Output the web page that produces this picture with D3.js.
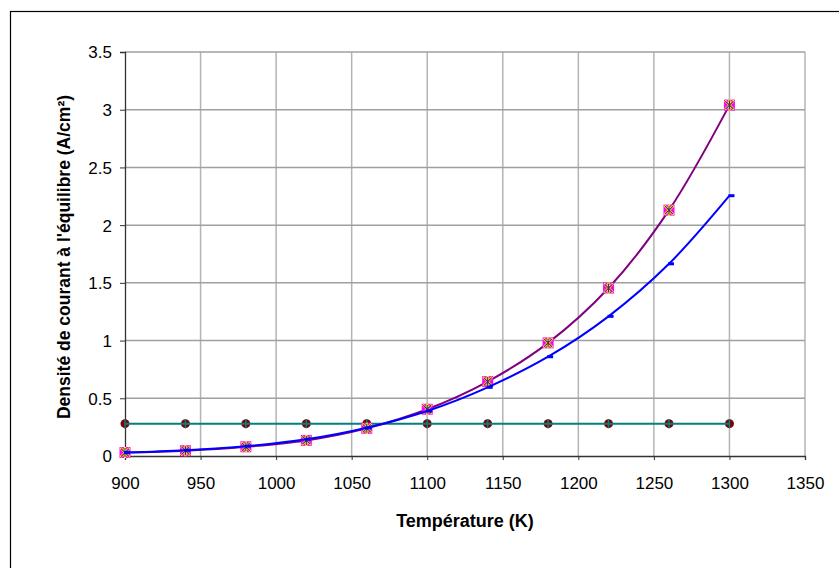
<!DOCTYPE html>
<html><head><meta charset="utf-8">
<script src="https://cdn.jsdelivr.net/npm/d3@7"></script>
<style>body{margin:0;background:#fff}svg{display:block}text{font-family:"Liberation Sans",Arial,sans-serif}</style>
</head><body><svg id="c" width="839" height="568"></svg>
<script>
const temps = [900, 940, 980, 1020, 1060, 1100, 1140, 1180, 1220, 1260, 1300];
const seriesA = [0.03, 0.046, 0.08, 0.135, 0.24, 0.405, 0.645, 0.98, 1.455, 2.13, 3.04];
const seriesB = [0.03, 0.05, 0.085, 0.145, 0.245, 0.39, 0.595, 0.86, 1.21, 1.665, 2.255];
const seriesC = [0.28, 0.28, 0.28, 0.28, 0.28, 0.28, 0.28, 0.28, 0.28, 0.28, 0.28];
const xTicks = [900, 950, 1000, 1050, 1100, 1150, 1200, 1250, 1300, 1350];
const yTicks = [0, 0.5, 1, 1.5, 2, 2.5, 3, 3.5];
const xTitle = "Température (K)";
const yTitle = "Densité de courant à l'équilibre (A/cm²)";

const svg = d3.select("#c");
const L = 125, R = 805, T = 52, B = 456;
const x = d3.scaleLinear().domain([900, 1350]).range([L, R]);
const y = d3.scaleLinear().domain([0, 3.5]).range([B, T]);

svg.append("rect").attr("x", 10.5).attr("y", 11.5).attr("width", 900).attr("height", 700)
  .attr("fill", "#fff").attr("stroke", "#000").attr("stroke-width", 1.2);

// gridlines
const g = svg.append("g");
g.selectAll(".vg").data(xTicks.slice(1)).join("line")
  .attr("x1", d => x(d)).attr("x2", d => x(d)).attr("y1", T).attr("y2", B)
  .attr("stroke", "#b4b4b4").attr("stroke-width", 1.5);
g.selectAll(".hg").data(yTicks.slice(1)).join("line")
  .attr("x1", L).attr("x2", R).attr("y1", d => y(d)).attr("y2", d => y(d))
  .attr("stroke", "#a0a0a0").attr("stroke-width", 1.5);

// axes
const xAxis = d3.axisBottom(x).tickValues(xTicks).tickSize(4).tickFormat(d3.format("d"));
const yAxis = d3.axisLeft(y).tickValues(yTicks).tickSize(5).tickFormat(d => d);
const gx = svg.append("g").attr("transform", `translate(0,${B})`).call(xAxis);
const gy = svg.append("g").attr("transform", `translate(${L},0)`).call(yAxis);
[gx, gy].forEach(a => {
  a.select(".domain").attr("stroke", "#333").attr("stroke-width", 1.3);
  a.selectAll(".tick line").attr("stroke", "#333");
  a.selectAll("text").attr("font-size", 17).attr("fill", "#000")
    .attr("font-family", "'Liberation Sans', Arial, sans-serif");
});
gx.selectAll("text").attr("y", 33).attr("dy", "0");
gy.selectAll("text").attr("x", -13).attr("dy", "0.35em");

svg.append("text").attr("x", (L + R) / 2).attr("y", 527).attr("text-anchor", "middle")
  .attr("font-size", 18).attr("font-weight", "bold").text(xTitle);
svg.append("text").attr("transform", `translate(70,257) rotate(-90)`)
  .attr("text-anchor", "middle").attr("font-size", 17.5).attr("font-weight", "bold").text(yTitle);

const mk = (vals) => temps.map((t, i) => [t, vals[i]]);
const line = d3.line().x(d => x(d[0])).y(d => y(d[1])).curve(d3.curveCatmullRom.alpha(0.5));

// constant series
const c = mk(seriesC);
svg.append("g").selectAll("circle").data(c).join("circle")
  .attr("cx", d => x(d[0])).attr("cy", d => y(d[1])).attr("r", 4.5).attr("fill", "#800000");
svg.append("path").attr("d", line(c)).attr("fill", "none").attr("stroke", "#008080").attr("stroke-width", 2);
svg.append("g").selectAll("line").data(c).join("line")
  .attr("x1", d => x(d[0])).attr("x2", d => x(d[0])).attr("y1", d => y(d[1]) - 4.5).attr("y2", d => y(d[1]) + 4.5)
  .attr("stroke", "#008080").attr("stroke-width", 1.5);

// series A line + markers
const a = mk(seriesA);
svg.append("path").attr("d", line(a)).attr("fill", "none").attr("stroke", "#800080").attr("stroke-width", 2);
const ga = svg.append("g");
ga.selectAll("rect").data(a).join("rect")
  .attr("x", d => x(d[0]) - 5.5).attr("y", d => y(d[1]) - 5.5).attr("width", 11).attr("height", 11).attr("fill", "#ff00ff");
ga.selectAll(".yx").data(a).join("path")
  .attr("d", d => { const cx = x(d[0]), cy = y(d[1]); return `M${cx-4.5},${cy-4.5}L${cx+4.5},${cy+4.5}M${cx-4.5},${cy+4.5}L${cx+4.5},${cy-4.5}M${cx},${cy-5.5}L${cx},${cy+5.5}`; })
  .attr("stroke", "#ffff00").attr("stroke-width", 2.2).attr("fill", "none");
ga.selectAll(".st").data(a).join("path")
  .attr("d", d => { const cx = x(d[0]), cy = y(d[1]); return `M${cx-4},${cy-4}L${cx+4},${cy+4}M${cx-4},${cy+4}L${cx+4},${cy-4}M${cx},${cy-4.5}L${cx},${cy+4.5}`; })
  .attr("stroke", "#4b2a6e").attr("stroke-width", 1.1).attr("fill", "none");

// series B
const b = mk(seriesB);
svg.append("path").attr("d", line(b)).attr("fill", "none").attr("stroke", "#0000ff").attr("stroke-width", 2);
svg.append("g").selectAll("rect").data(b).join("rect")
  .attr("x", d => x(d[0]) - 1).attr("y", d => y(d[1]) - 1.5).attr("width", 6).attr("height", 3).attr("fill", "#0000ff");
</script></body></html>
